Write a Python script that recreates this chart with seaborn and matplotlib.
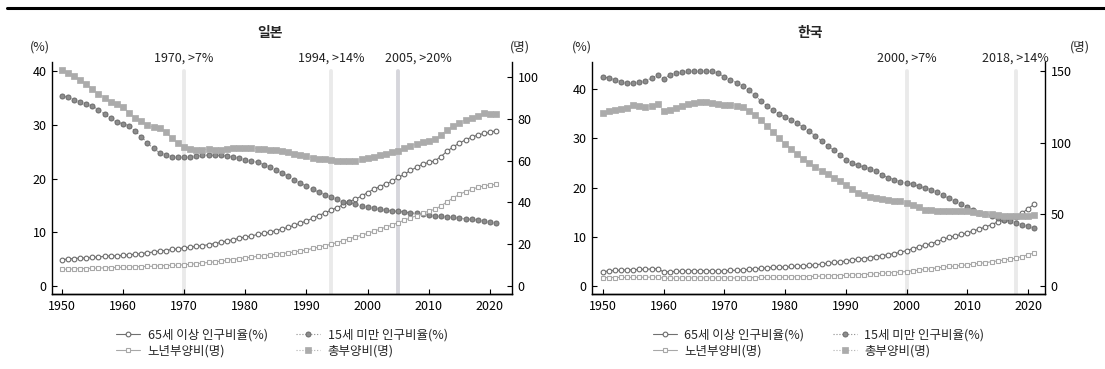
import pandas as pd
import matplotlib.pyplot as plt
import seaborn as sns
from matplotlib.lines import Line2D

# 연도
years = list(range(1950, 2022))

# 일본: 65세 이상 인구비율(%), 15세 미만 인구비율(%), 노년부양비(명), 총부양비(명)
jp_old = [4.9, 5.0, 5.1, 5.2, 5.2, 5.3, 5.4, 5.5, 5.6, 5.6,
          5.7, 5.8, 5.9, 6.0, 6.2, 6.3, 6.5, 6.6, 6.8, 6.9,
          7.1, 7.2, 7.4, 7.5, 7.7, 7.9, 8.1, 8.4, 8.6, 8.9,
          9.1, 9.3, 9.6, 9.8, 10.0, 10.3, 10.6, 10.9, 11.3, 11.7,
          12.1, 12.6, 13.1, 13.6, 14.1, 14.6, 15.1, 15.7, 16.2, 16.7,
          17.4, 18.0, 18.5, 19.0, 19.5, 20.2, 20.8, 21.5, 22.1, 22.7,
          23.0, 23.3, 24.1, 25.1, 25.9, 26.6, 27.2, 27.7, 28.1, 28.4,
          28.6, 28.9]
jp_young = [35.4, 35.1, 34.7, 34.3, 33.9, 33.5, 32.8, 32.0, 31.2, 30.5,
            30.2, 29.8, 28.8, 27.8, 26.6, 25.6, 24.8, 24.4, 24.1, 24.0,
            24.0, 24.1, 24.2, 24.3, 24.4, 24.3, 24.3, 24.2, 24.0, 23.8,
            23.5, 23.3, 23.0, 22.6, 22.1, 21.6, 21.0, 20.4, 19.8, 19.1,
            18.6, 18.0, 17.5, 17.0, 16.6, 16.1, 15.6, 15.6, 15.2, 14.9,
            14.7, 14.5, 14.3, 14.1, 14.0, 13.9, 13.8, 13.6, 13.5, 13.4,
            13.2, 13.1, 13.0, 12.9, 12.8, 12.6, 12.5, 12.4, 12.3, 12.1,
            11.9, 11.8]
jp_oadr = [8.0, 8.1, 8.2, 8.3, 8.4, 8.5, 8.6, 8.7, 8.8, 8.9,
           9.0, 9.1, 9.2, 9.3, 9.4, 9.5, 9.7, 9.8, 9.9, 10.0,
           10.2, 10.4, 10.7, 11.0, 11.3, 11.6, 11.9, 12.3, 12.7, 13.1,
           13.5, 13.8, 14.2, 14.5, 14.8, 15.1, 15.5, 15.9, 16.3, 16.8,
           17.3, 18.0, 18.6, 19.3, 20.0, 20.8, 21.7, 22.6, 23.5, 24.3,
           25.2, 26.2, 27.2, 28.2, 29.2, 30.4, 31.5, 32.6, 33.7, 34.8,
           35.9, 36.7, 38.4, 40.3, 42.2, 43.9, 45.2, 46.3, 47.2, 47.9,
           48.4, 48.6]
jp_tdr = [103.4, 102.1, 100.5, 98.5, 96.5, 94.5, 92.1, 90.0, 88.2, 87.1,
          85.5, 83.0, 80.6, 79.0, 76.9, 75.9, 75.6, 73.6, 70.7, 68.3,
          66.3, 65.5, 65.2, 65.2, 65.5, 65.2, 65.2, 65.8, 66.2, 66.2,
          66.2, 66.2, 65.8, 65.4, 65.2, 65.0, 64.5, 64.0, 63.3, 62.7,
          62.0, 61.5, 61.0, 60.6, 60.3, 59.7, 59.8, 59.9, 60.0, 60.6,
          61.3, 61.9, 62.7, 63.2, 64.0, 64.8, 66.1, 66.9, 68.0, 69.1,
          69.6, 70.2, 72.5, 74.9, 76.5, 78.1, 79.5, 80.5, 81.6, 82.7,
          82.4, 82.4]

# 한국
kr_old = [2.9, 3.1, 3.2, 3.2, 3.3, 3.3, 3.4, 3.4, 3.5, 3.5,
          2.9, 2.9, 3.0, 3.0, 3.1, 3.1, 3.1, 3.1, 3.1, 3.0,
          3.1, 3.2, 3.2, 3.3, 3.4, 3.5, 3.6, 3.7, 3.8, 3.9,
          3.8, 4.0, 4.1, 4.1, 4.2, 4.3, 4.5, 4.6, 4.8, 4.9,
          5.1, 5.3, 5.5, 5.6, 5.8, 6.0, 6.2, 6.4, 6.6, 6.9,
          7.2, 7.6, 7.9, 8.3, 8.6, 9.0, 9.5, 9.9, 10.2, 10.5,
          10.8, 11.2, 11.6, 12.0, 12.5, 13.0, 13.4, 13.6, 14.0, 14.8,
          15.7, 16.6]
kr_young = [42.4, 42.3, 41.8, 41.5, 41.2, 41.2, 41.4, 41.7, 42.2, 42.8,
            42.1, 42.9, 43.3, 43.4, 43.6, 43.7, 43.7, 43.7, 43.6, 43.2,
            42.5, 41.9, 41.3, 40.6, 39.8, 38.7, 37.6, 36.6, 35.7, 35.0,
            34.3, 33.7, 33.1, 32.3, 31.4, 30.5, 29.5, 28.5, 27.6, 26.7,
            25.7, 25.0, 24.5, 24.2, 23.8, 23.3, 22.6, 22.0, 21.6, 21.2,
            21.0, 20.7, 20.3, 19.9, 19.6, 19.1, 18.5, 17.8, 17.2, 16.6,
            16.1, 15.4, 14.9, 14.6, 14.2, 13.8, 13.4, 13.2, 12.9, 12.4,
            12.2, 11.7]
kr_oadr = [5.8, 5.9, 5.9, 6.0, 6.0, 6.0, 6.1, 6.1, 6.2, 6.2,
           5.4, 5.4, 5.5, 5.5, 5.6, 5.6, 5.6, 5.6, 5.5, 5.5,
           5.6, 5.6, 5.6, 5.7, 5.8, 5.9, 6.0, 6.0, 6.1, 6.2,
           6.1, 6.3, 6.4, 6.5, 6.6, 6.7, 6.9, 7.0, 7.1, 7.3,
           7.4, 7.6, 7.8, 8.0, 8.2, 8.4, 8.8, 9.1, 9.4, 9.7,
           10.1, 10.6, 11.0, 11.5, 12.0, 12.6, 13.1, 13.6, 13.9, 14.3,
           14.8, 15.3, 15.8, 16.3, 16.9, 17.5, 18.1, 18.7, 19.4, 20.5,
           21.8, 23.0]
kr_tdr = [120.9, 122.2, 123.1, 123.4, 124.4, 126.0, 125.5, 125.1, 125.8, 126.7,
          121.9, 123.1, 124.1, 125.5, 126.7, 127.4, 128.3, 128.1, 127.9, 126.9,
          126.4, 126.4, 125.8, 124.6, 122.3, 119.5, 115.5, 111.5, 107.2, 103.0,
          99.3, 95.4, 91.9, 88.9, 86.0, 83.2, 80.4, 78.0, 75.6, 73.4,
          70.5, 67.6, 65.2, 63.3, 62.4, 61.4, 60.9, 60.0, 59.4, 59.0,
          57.6, 56.3, 55.0, 53.3, 52.8, 52.6, 52.5, 52.4, 52.3, 52.2,
          52.0, 51.3, 50.8, 50.3, 49.9, 49.5, 49.0, 48.6, 48.5, 48.8,
          49.0, 49.3]

# 고령화 기준 연도 표시
jp_marks = [(1970, "1970, >7%", 0), (1994, "1994, >14%", 0), (2005, "2005, >20%", 3.3)]
kr_marks = [(2000, "2000, >7%", 0), (2018, "2018, >14%", 0)]

labels = ["65세 이상 인구비율(%)", "15세 미만 인구비율(%)", "노년부양비(명)", "총부양비(명)"]

df = pd.DataFrame({"year": years,
                   "jp_old": jp_old, "jp_young": jp_young, "jp_oadr": jp_oadr, "jp_tdr": jp_tdr,
                   "kr_old": kr_old, "kr_young": kr_young, "kr_oadr": kr_oadr, "kr_tdr": kr_tdr})

sns.set_theme(style="ticks")
plt.rcParams["font.family"] = ["Noto Sans CJK KR", "DejaVu Sans"]
plt.rcParams["axes.unicode_minus"] = False

styles = {
    "old": dict(marker="o", markersize=3.4, markerfacecolor="white", markeredgecolor="#6a6a6a",
                markeredgewidth=0.8, color="#707070", linewidth=0.8, linestyle="-"),
    "young": dict(marker="o", markersize=3.6, markerfacecolor="#8c8c8c", markeredgecolor="#6a6a6a",
                  markeredgewidth=0.7, color="#8c8c8c", linewidth=0.8, linestyle=":"),
    "oadr": dict(marker="s", markersize=3.4, markerfacecolor="white", markeredgecolor="#a8a8a8",
                 markeredgewidth=0.8, color="#a8a8a8", linewidth=0.8, linestyle="-"),
    "tdr": dict(marker="s", markersize=3.9, markerfacecolor="#ababab", markeredgecolor="#ababab",
                markeredgewidth=0.5, color="#b0b0b0", linewidth=0.8, linestyle=":"),
}

W, H = 1105, 369
fig = plt.figure(figsize=(W / 100, H / 100), dpi=100)
fig.add_artist(Line2D([7 / W, 1.0], [1 - 8 / H, 1 - 8 / H], color="black", linewidth=2.2))


def panel(rect, prefix, title, title_x, marks, ylim_l, ylim_r, ticks_l, ticks_r, xlim, pct_x, unit_x):
    ax = fig.add_axes(rect)
    ax2 = ax.twinx()
    for yr, txt, shift in marks:
        col = "#d6d6dc" if yr == 2005 else "#eaeaea"
        ax.axvline(yr, ymin=0, ymax=0.961, color=col, linewidth=2.8, zorder=0)
        ax.text(yr + shift, 1.018, txt, transform=ax.get_xaxis_transform(),
                ha="center", va="center", fontsize=9, color="#222222")
    sns.lineplot(data=df, x="year", y=prefix + "_old", ax=ax, label=labels[0], legend=False, **styles["old"])
    sns.lineplot(data=df, x="year", y=prefix + "_young", ax=ax, label=labels[1], legend=False, **styles["young"])
    sns.lineplot(data=df, x="year", y=prefix + "_oadr", ax=ax2, label=labels[2], legend=False, **styles["oadr"])
    sns.lineplot(data=df, x="year", y=prefix + "_tdr", ax=ax2, label=labels[3], legend=False, **styles["tdr"])

    ax.set_xlim(*xlim)
    ax.set_ylim(*ylim_l)
    ax2.set_ylim(*ylim_r)
    ax.set_xticks(range(1950, 2021, 10))
    ax.set_yticks(ticks_l)
    ax2.set_yticks(ticks_r)
    for a in (ax, ax2):
        a.set_xlabel("")
        a.set_ylabel("")
        a.spines["top"].set_visible(False)
        for s in ("left", "right", "bottom"):
            a.spines[s].set_linewidth(1.0)
            a.spines[s].set_color("black")
        a.tick_params(direction="in", length=3.5, width=0.8, labelsize=9, colors="black", pad=4)
    ax.spines["right"].set_visible(False)
    ax2.spines["left"].set_visible(False)

    h1, l1 = ax.get_legend_handles_labels()
    h2, l2 = ax2.get_legend_handles_labels()
    handles = [h1[0], h2[0], h1[1], h2[1]]
    names = [l1[0], l2[0], l1[1], l2[1]]
    ax2.legend(handles, names, loc="upper center", bbox_to_anchor=(0.5, -0.1), ncol=2, frameon=False,
               fontsize=9, handlelength=1.9, handletextpad=0.6, columnspacing=2.3, labelspacing=0.25)

    fig.text(title_x / W, 1 - 33 / H, title, ha="center", va="center", fontsize=10, fontweight="bold")
    fig.text(pct_x / W, 1 - 47 / H, "(%)", ha="center", va="center", fontsize=9)
    fig.text(unit_x / W, 1 - 47 / H, "(명)", ha="center", va="center", fontsize=9)


top, bottom = 62, 294
panel([52 / W, 1 - bottom / H, (512 - 52) / W, (bottom - top) / H], "jp", "일본", 270,
      jp_marks, (-1.5, 41.7), (-3.8, 107.2), [0, 10, 20, 30, 40], [0, 20, 40, 60, 80, 100],
      (1948.4, 2023.6), 40, 520)
panel([592 / W, 1 - bottom / H, (1045 - 592) / W, (bottom - top) / H], "kr", "한국", 810,
      kr_marks, (-1.6, 45.5), (-5.6, 156.3), [0, 10, 20, 30, 40], [0, 50, 100, 150],
      (1948.2, 2022.8), 582, 1080)

fig.savefig("out.png", dpi=100)
